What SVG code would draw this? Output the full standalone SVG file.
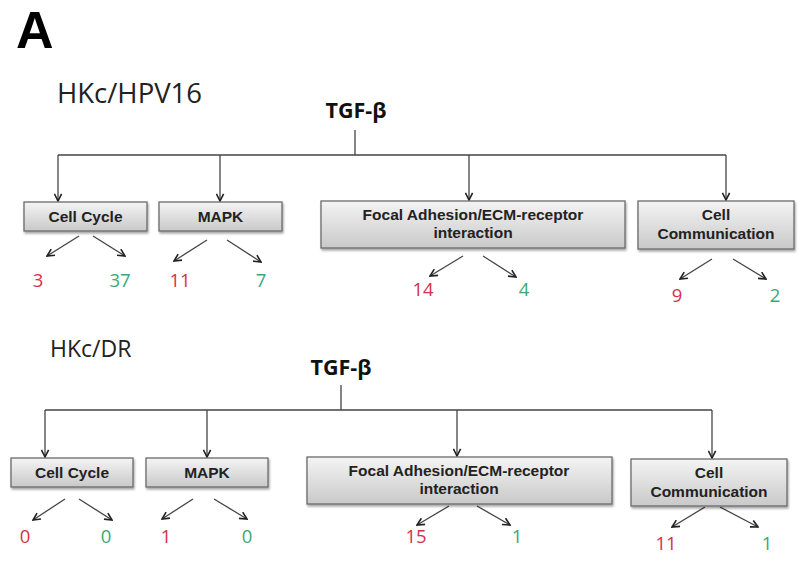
<svg xmlns="http://www.w3.org/2000/svg" width="800" height="567" viewBox="0 0 800 567">
<defs>
<linearGradient id="g" x1="0" y1="0" x2="0" y2="1">
<stop offset="0" stop-color="#f4f4f4"/>
<stop offset="1" stop-color="#c9c9c9"/>
</linearGradient>
<filter id="sh" x="-10%" y="-20%" width="120%" height="150%">
<feDropShadow dx="1" dy="2" stdDeviation="1.2" flood-color="#000" flood-opacity="0.35"/>
</filter>
<marker id="ah" viewBox="0 0 10 10" refX="9" refY="5" markerWidth="9" markerHeight="9" orient="auto" markerUnits="userSpaceOnUse">
<path d="M1,1 L9,5 L1,9" fill="none" stroke="#222" stroke-width="1.8"/>
</marker>
</defs>
<style>
.box{fill:url(#g);stroke:#6a6a6a;stroke-width:1.3;filter:url(#sh)}
.bt{font-family:"Liberation Sans",Arial,sans-serif;font-weight:bold;font-size:15.5px;fill:#222;text-anchor:middle}
.ln{fill:none;stroke:#444;stroke-width:1.3}
.ar{fill:none;stroke:#444;stroke-width:1.3;marker-end:url(#ah)}
.num{font-family:"Open Sans","Liberation Sans",sans-serif;font-size:18.5px;text-anchor:middle}
.r{fill:#d4324a}
.gr{fill:#3aa877}
.lab{font-family:"Open Sans","Liberation Sans",sans-serif;fill:#222}
.tgf{font-family:"Open Sans","Liberation Sans",sans-serif;font-weight:bold;font-size:21.5px;fill:#111;text-anchor:middle}
</style>
<rect width="800" height="567" fill="#fff"/>
<text x="16" y="48" font-family="Liberation Sans,Arial,sans-serif" font-weight="bold" font-size="52" fill="#000">A</text>

<text class="lab" x="57" y="103" font-size="27.5">HKc/HPV16</text>
<text class="tgf" x="356" y="118">TGF-β</text>
<text class="lab" x="50" y="357" font-size="23">HKc/DR</text>
<text class="tgf" x="341" y="375">TGF-β</text>

<g id="connectors">
<path class="ln" d="M355,130 V155 M58,155 H726"/>
<path class="ar" d="M58,155 V201"/>
<path class="ar" d="M220,155 V201"/>
<path class="ar" d="M469,155 V200"/>
<path class="ar" d="M726,155 V200"/>
<path class="ar" d="M79,236 L47,256"/>
<path class="ar" d="M93,236 L125,256"/>
<path class="ar" d="M207,240 L174,261"/>
<path class="ar" d="M227,240 L261,262"/>
<path class="ar" d="M463,256 L430,276"/>
<path class="ar" d="M483,256 L516,277"/>
<path class="ar" d="M712,259 L680,279"/>
<path class="ar" d="M733,259 L766,279"/>

<path class="ln" d="M341,385 V410 M45,410 H712"/>
<path class="ar" d="M45,410 V457"/>
<path class="ar" d="M207,410 V457"/>
<path class="ar" d="M457,410 V456"/>
<path class="ar" d="M712,410 V458"/>
<path class="ar" d="M65,499 L33,520"/>
<path class="ar" d="M79,499 L112,520"/>
<path class="ar" d="M193,499 L162,519"/>
<path class="ar" d="M214,499 L247,519"/>
<path class="ar" d="M449,506 L417,525"/>
<path class="ar" d="M477,506 L510,525"/>
<path class="ar" d="M705,507 L672,527"/>
<path class="ar" d="M720,507 L758,527"/>
</g>

<g id="top-cellcycle">
<rect class="box" x="24" y="202" width="123" height="29"/>
<text class="bt" x="85.5" y="222">Cell Cycle</text>
<text class="num r" x="38" y="287">3</text>
<text class="num gr" x="120" y="287">37</text>
</g>
<g id="top-mapk">
<rect class="box" x="159" y="202" width="123" height="29"/>
<text class="bt" x="220.5" y="222">MAPK</text>
<text class="num r" x="180" y="287">11</text>
<text class="num gr" x="261" y="287">7</text>
</g>
<g id="top-focal">
<rect class="box" x="321" y="201" width="304" height="47"/>
<text class="bt" x="473" y="220">Focal Adhesion/ECM-receptor</text>
<text class="bt" x="473" y="238">interaction</text>
<text class="num r" x="423" y="296">14</text>
<text class="num gr" x="524" y="296">4</text>
</g>
<g id="top-cellcomm">
<rect class="box" x="638" y="201" width="156" height="48"/>
<text class="bt" x="716" y="220">Cell</text>
<text class="bt" x="716" y="239">Communication</text>
<text class="num r" x="677" y="302">9</text>
<text class="num gr" x="775" y="302">2</text>
</g>

<g id="bot-cellcycle">
<rect class="box" x="11" y="458" width="122" height="29"/>
<text class="bt" x="72" y="478">Cell Cycle</text>
<text class="num r" x="25" y="543">0</text>
<text class="num gr" x="106" y="543">0</text>
</g>
<g id="bot-mapk">
<rect class="box" x="146" y="458" width="122" height="29"/>
<text class="bt" x="207" y="478">MAPK</text>
<text class="num r" x="166" y="543">1</text>
<text class="num gr" x="247" y="543">0</text>
</g>
<g id="bot-focal">
<rect class="box" x="307" y="457" width="305" height="47"/>
<text class="bt" x="459" y="476">Focal Adhesion/ECM-receptor</text>
<text class="bt" x="459" y="494">interaction</text>
<text class="num r" x="416" y="543">15</text>
<text class="num gr" x="517" y="543">1</text>
</g>
<g id="bot-cellcomm">
<rect class="box" x="631" y="459" width="156" height="47"/>
<text class="bt" x="709" y="478">Cell</text>
<text class="bt" x="709" y="497">Communication</text>
<text class="num r" x="666" y="550">11</text>
<text class="num gr" x="767" y="550">1</text>
</g>
</svg>
